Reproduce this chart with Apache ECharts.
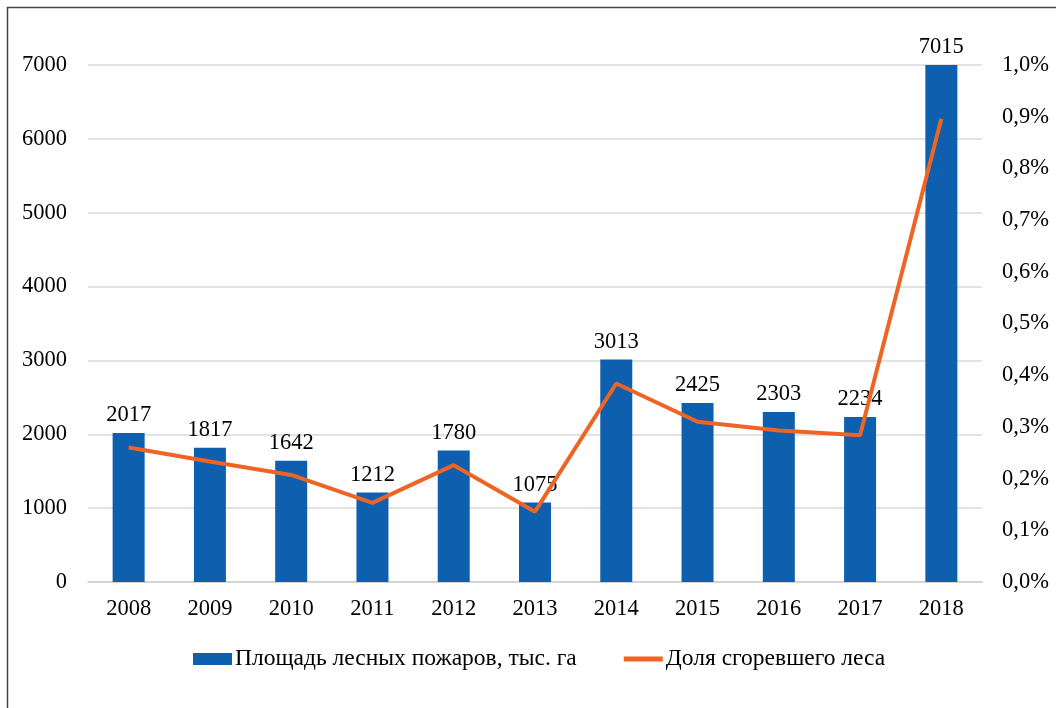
<!DOCTYPE html>
<html>
<head>
<meta charset="utf-8">
<script src="https://cdn.jsdelivr.net/npm/echarts@6/dist/echarts.min.js"></script>
<style>
  html, body { margin: 0; padding: 0; background: #fff; }
  #chart { width: 1056px; height: 708px; }
</style>
</head>
<body>
<div id="chart"></div>
<script>
// годы
const years = ['2008','2009','2010','2011','2012','2013','2014','2015','2016','2017','2018'];
// площадь лесных пожаров, тыс. га
const area = [2017, 1817, 1642, 1212, 1780, 1075, 3013, 2425, 2303, 2234, 7015];
// доля сгоревшего леса, %
const share = [0.260, 0.233, 0.207, 0.153, 0.226, 0.136, 0.384, 0.310, 0.293, 0.284, 0.896];

const FONT = '"Liberation Serif", "Times New Roman", serif';

const chart = echarts.init(document.getElementById('chart'));
chart.setOption({
  animation: false,
  textStyle: { fontFamily: FONT, color: '#000' },
  graphic: [{
    type: 'rect',
    shape: { x: 7.5, y: 7.5, width: 1200, height: 900 },
    style: { fill: 'none', stroke: '#444', lineWidth: 1.5 }
  }],
  grid: { left: 88, right: 74, top: 65, bottom: 126 },
  legend: {
    top: 642,
    left: 188,
    itemGap: 47,
    itemWidth: 39,
    itemHeight: 12,
    symbolKeepAspect: true,
    textStyle: { fontFamily: FONT, fontSize: 23.5, color: '#000', padding: [0, 0, 0, -2] },
    data: [
      { name: 'Площадь лесных пожаров, тыс. га', icon: 'rect' },
      { name: 'Доля сгоревшего леса', icon: 'path://M0,0H40V5H0Z' }
    ]
  },
  xAxis: {
    type: 'category',
    data: years,
    axisTick: { show: false },
    axisLine: { lineStyle: { color: '#d0d0d0', width: 1.5 } },
    axisLabel: { fontFamily: FONT, fontSize: 22.5, color: '#000', margin: 16 }
  },
  yAxis: [{
    type: 'value',
    min: 0, max: 7000, interval: 1000,
    axisLine: { show: false },
    axisTick: { show: false },
    splitLine: { lineStyle: { color: '#d9d9d9', width: 1.5 } },
    axisLabel: { fontFamily: FONT, fontSize: 22.5, color: '#000', margin: 21, formatter: v => String(v) }
  }, {
    type: 'value',
    min: 0, max: 1.0, interval: 0.1,
    position: 'right',
    axisLine: { show: false },
    axisTick: { show: false },
    splitLine: { show: false },
    axisLabel: {
      fontFamily: FONT, fontSize: 22.5, color: '#000', margin: 20,
      formatter: v => v.toFixed(1).replace('.', ',') + '%'
    }
  }],
  series: [{
    name: 'Площадь лесных пожаров, тыс. га',
    type: 'bar',
    data: area,
    barWidth: 32,
    itemStyle: { color: '#0e5fae' },
    label: {
      show: true, position: 'top', distance: 6,
      fontFamily: FONT, fontSize: 22.5, color: '#000'
    }
  }, {
    name: 'Доля сгоревшего леса',
    type: 'line',
    yAxisIndex: 1,
    data: share,
    symbol: 'none',
    lineStyle: { color: '#ee6424', width: 4 },
    itemStyle: { color: '#ee6424' }
  }]
});
</script>
</body>
</html>
